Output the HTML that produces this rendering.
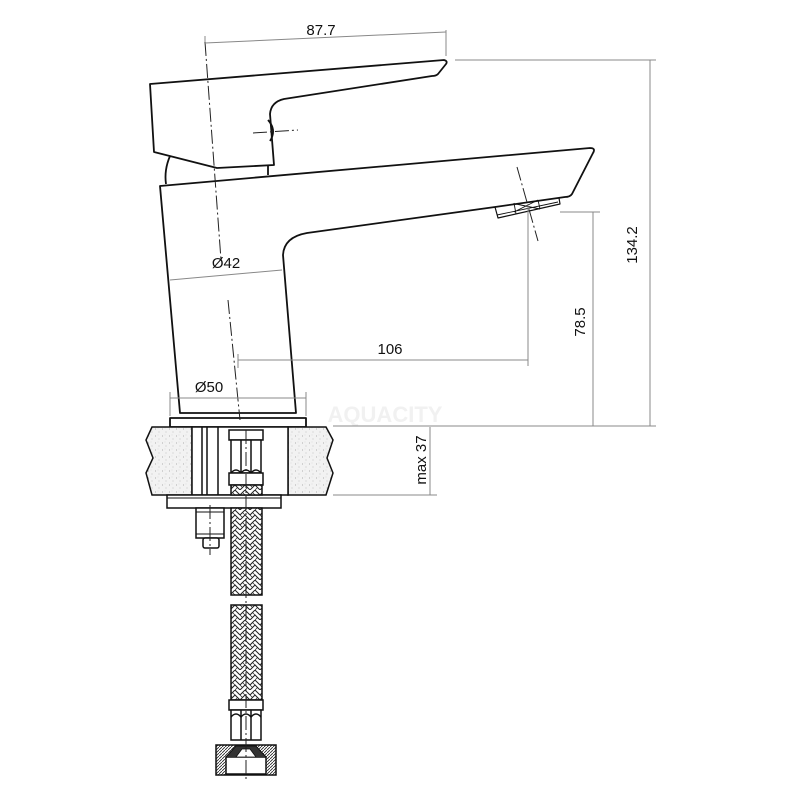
<!DOCTYPE html>
<html><head><meta charset="utf-8"><style>
html,body{margin:0;padding:0;background:#fff;}
svg{display:block;}
text{font-family:"Liberation Sans",sans-serif;fill:#111;}
</style></head><body>
<svg width="800" height="800" viewBox="0 0 800 800" xmlns="http://www.w3.org/2000/svg">
<defs>
<pattern id="dots" width="7" height="7" patternUnits="userSpaceOnUse">
<rect width="7" height="7" fill="#f2f2f2"/>
<circle cx="1.5" cy="2" r="0.5" fill="#999"/><circle cx="5" cy="5" r="0.45" fill="#aaa"/><circle cx="4" cy="1" r="0.35" fill="#bbb"/>
</pattern>
<pattern id="braid" width="10" height="10" patternUnits="userSpaceOnUse">
<rect width="10" height="10" fill="#fff"/>
<path d="M0 5 L5 0 L10 5 M0 10 L5 5 L10 10" stroke="#222" stroke-width="1" fill="none"/>
<path d="M2.5 2.5 L5 5 M7.5 7.5 L5 10 M2.5 7.5 L0 5" stroke="#222" stroke-width="0.7" fill="none"/>
</pattern>
<pattern id="hatch" width="3" height="3" patternUnits="userSpaceOnUse">
<rect width="3" height="3" fill="#fff"/><path d="M0 3 L3 0" stroke="#222" stroke-width="0.8"/>
</pattern>
</defs>

<!-- watermark -->
<text x="385" y="422" font-size="22" font-weight="bold" style="fill:#f1f1f1" text-anchor="middle">AQUACITY</text>

<g fill="none" stroke="#111" stroke-width="1.8" stroke-linejoin="round">
<path d="M150 84 L444 60 Q448 61 446 64 L438 74 Q436 76 432 76 L284 99 Q271 102 270 114 L274 165 L217 168 L154 152 Z" fill="#fff"/>
<path d="M268 120 Q277 130 270 141"/>
<path d="M170 156 Q164 170 166 184"/>
<path d="M268 165 L268 175"/>
<path d="M160 186 L590 148 Q596 148 593 153 L572 194 Q570 197 565 197 L495 207 L307 233 Q284 237 283 255 L296 413 L180 413 L160 186 Z" fill="#fff"/>
<path d="M495 207 L498 218 L560 204 L559 198" stroke-width="1.2"/>
<path d="M497 215 L558 202 M514 203 L516 214 M538 200 L540 209 M516 204 L540 209 M514 212 L538 200" stroke-width="0.9"/>
<rect x="170" y="418" width="136" height="9" fill="#fff"/>
</g>

<g stroke="#111" stroke-width="1.5">
<path d="M152 427 L192 427 L192 495 L152 495 L146 473 L153 458 L146 440 Z" fill="url(#dots)"/>
<path d="M288 427 L326 427 L333 440 L327 458 L333 473 L326 495 L288 495 Z" fill="url(#dots)"/>
<rect x="192" y="427" width="96" height="68" fill="#fff"/>
<path d="M202 427 V495 M207 427 V495 M218 427 V495" fill="none"/>
<rect x="167" y="495" width="114" height="13" fill="#fff"/>
<line x1="167" y1="498" x2="281" y2="498" stroke-width="1"/>
<rect x="196" y="508" width="28" height="30" fill="#fff"/>
<path d="M196 512 H224 M196 534 H224" stroke-width="0.9"/>
<rect x="203" y="538" width="16" height="10" rx="2" fill="#fff"/>
<rect x="229" y="430" width="34" height="10" fill="#fff"/>
<path d="M231 440 H261 V473 H231 Z M241 440 V473 M251 440 V473" fill="#fff"/>
<path d="M231 473 Q236 467 241 473 Q246 467 251 473 Q256 467 261 473" fill="none"/>
<rect x="229" y="473" width="34" height="12" fill="#fff"/>
<rect x="231" y="485" width="31" height="10" fill="url(#braid)"/>
<rect x="231" y="508" width="31" height="87" fill="url(#braid)"/>
<rect x="231" y="605" width="31" height="95" fill="url(#braid)"/>
<rect x="229" y="700" width="34" height="10" fill="#fff"/>
<path d="M231 710 H261 V740 H231 Z M241 710 V740 M251 710 V740" fill="#fff"/>
<path d="M231 717 Q236 711 241 717 Q246 711 251 717 Q256 711 261 717" fill="none"/>
<path d="M216 745 H276 V775 H216 Z" fill="url(#hatch)"/>
<rect x="226" y="757" width="40" height="17" fill="#fff"/>
<path d="M226 757 L236 746 H256 L266 757" fill="#333" stroke-width="1"/>
<path d="M236 757 L242 749 H250 L256 757 Z" fill="#fff" stroke-width="0.8"/>
</g>

<g stroke="#222" stroke-width="1" stroke-dasharray="14,3,2,3" fill="none">
<path d="M205 42 L221 260"/>
<path d="M228 300 L240 420"/>
<path d="M246 430 L246 780"/>
<path d="M210 505 L210 555"/>
<path d="M253 133 L298 130"/>
<path d="M517 167 L538 241"/>
</g>

<g stroke="#888" stroke-width="1" fill="none">
<path d="M205 42 L205 36 M446 30 L446 56"/>
<path d="M205 43 L446 32"/>
<path d="M455 60 L656 60 M650 60 V426"/>
<path d="M560 212 L600 212 M593 212 V426"/>
<path d="M333 426 L656 426"/>
<path d="M238 360 L528 360 M528 205 V366 M238 354 V368"/>
<path d="M170 280 L282 270"/>
<path d="M170 398 L306 398 M170 392 V416 M306 392 V416"/>
<path d="M333 495 L437 495 M430 427 V495"/>
</g>

<text x="321" y="35" font-size="15" text-anchor="middle">87.7</text>
<text x="226" y="268" font-size="15" text-anchor="middle">Ø42</text>
<text x="390" y="354" font-size="15" text-anchor="middle">106</text>
<text x="209" y="392" font-size="15" text-anchor="middle">Ø50</text>
<text transform="translate(637,245) rotate(-90)" font-size="15" text-anchor="middle">134.2</text>
<text transform="translate(585,322) rotate(-90)" font-size="15" text-anchor="middle">78.5</text>
<text transform="translate(426,460) rotate(-90)" font-size="15" text-anchor="middle">max 37</text>
</svg>
</body></html>
